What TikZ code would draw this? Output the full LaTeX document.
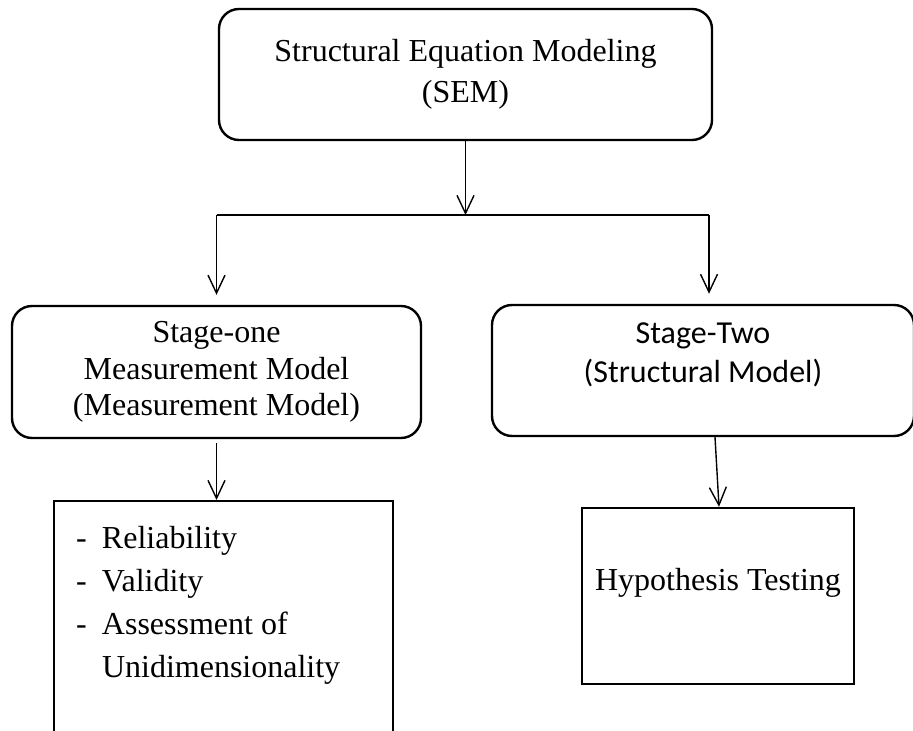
\documentclass[tikz,border=0pt]{standalone}
\usepackage{fontspec}
\setmainfont{Liberation Serif}
\newfontfamily\calibri{Carlito}
\usetikzlibrary{arrows.meta}

\begin{document}
\begin{tikzpicture}[x=.5pt,y=-.5pt,
  rbox/.style={draw,line width=1.2pt,rounded corners=10pt,align=center,inner sep=0pt},
  sbox/.style={draw,line width=1.2pt,inner sep=0pt},
  arr/.style={line width=.7pt,-{Straight Barb[length=9pt,width=8.5pt]}}]
\useasboundingbox (0,0) rectangle (913,731);
\clip (0,0) rectangle (913,731);

\node[rbox,minimum width=246.5pt,minimum height=65.5pt,font=\fontsize{16}{20.5}\selectfont]
  (sem) at (465.5,74.5) {Structural Equation Modeling\\(SEM)};
\node[rbox,minimum width=204.5pt,minimum height=66pt,font=\fontsize{16}{18.25}\selectfont]
  (stageone) at (216.5,372) {Stage-one\\Measurement Model\\(Measurement Model)};
\node[rbox,minimum width=211pt,minimum height=65.5pt,text depth=18pt,font=\calibri\fontsize{16}{19.5}\selectfont]
  (stagetwo) at (703,370.5) {Stage-Two\\(Structural Model)};

% list box runs off the page
\node[sbox,anchor=north,inner xsep=11pt,font=\fontsize{16}{21.5}\selectfont] (measures) at (223.5,500)
  {\parbox[c][150pt][t]{147.5pt}{\raggedright
    \makebox[13pt][l]{-}\rule{0pt}{23.5pt}Reliability\\
    \makebox[13pt][l]{-}Validity\\
    \makebox[13pt][l]{-}Assessment of\\
    \hspace*{13pt}Unidimensionality}};
\node[sbox,minimum width=136pt,minimum height=88pt,text depth=17pt,font=\fontsize{16}{20}\selectfont]
  (hypo) at (718,596) {Hypothesis Testing};

\coordinate (split) at (465.5,215);
\coordinate (splitL) at (216.5,215);
\coordinate (splitR) at (709,215);

\draw[arr] (sem.south) -- (split);
\draw[line width=.7pt] (splitL) -- (splitR);
\draw[arr,shorten >=5pt] (splitL) -- (stageone.north);
\draw[arr,shorten >=5pt] (splitR) -- (splitR |- stagetwo.north);
\draw[arr,shorten <=2pt] (stageone.south) -- (stageone.south |- measures.north);
\draw[arr] ([xshift=6pt]stagetwo.south) -- ([xshift=.5pt]hypo.north);
\end{tikzpicture}
\end{document}
